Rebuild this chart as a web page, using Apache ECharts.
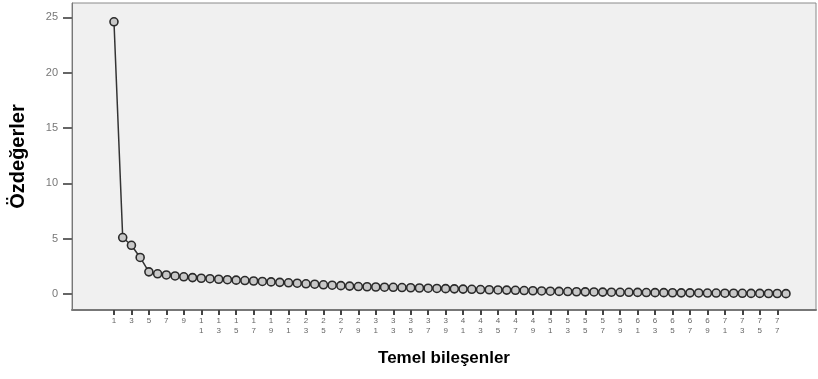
<!DOCTYPE html>
<html>
<head>
<meta charset="utf-8">
<script src="https://cdn.jsdelivr.net/npm/echarts@6/dist/echarts.min.js"></script>
<style>
html,body{margin:0;padding:0;background:#ffffff;}
#chart{width:818px;height:379px;}
</style>
</head>
<body>
<div id="chart"></div>
<script>
// Component numbers (1..78)
const components = [
  1,2,3,4,5,6,7,8,9,10,11,12,13,14,15,16,17,18,19,20,
  21,22,23,24,25,26,27,28,29,30,31,32,33,34,35,36,37,38,39,40,
  41,42,43,44,45,46,47,48,49,50,51,52,53,54,55,56,57,58,59,60,
  61,62,63,64,65,66,67,68,69,70,71,72,73,74,75,76,77,78
];
// Eigenvalues
const eigenvalues = [
  24.6,5.1,4.4,3.3,2.0,1.82,1.72,1.63,1.55,1.48,
  1.42,1.38,1.33,1.29,1.25,1.21,1.17,1.13,1.09,1.05,
  1.01,0.97,0.92,0.88,0.83,0.79,0.75,0.71,0.67,0.65,
  0.63,0.61,0.60,0.58,0.56,0.54,0.52,0.50,0.48,0.46,
  0.44,0.42,0.40,0.38,0.36,0.35,0.33,0.31,0.29,0.27,
  0.25,0.23,0.22,0.20,0.19,0.18,0.17,0.16,0.15,0.15,
  0.14,0.13,0.12,0.12,0.11,0.10,0.10,0.09,0.08,0.08,
  0.07,0.07,0.06,0.05,0.05,0.04,0.04,0.03
];
// Tick labels
const xTicks = [1,3,5,7,9,11,13,15,17,19,21,23,25,27,29,31,33,35,37,39,
  41,43,45,47,49,51,53,55,57,59,61,63,65,67,69,71,73,75,77];
const yTicks = [0,5,10,15,20,25];
const xTitle = 'Temel bileşenler';
const yTitle = 'Özdeğerler';

const chart = echarts.init(document.getElementById('chart'), null, {renderer:'canvas'});
const seriesData = components.map((c,i)=>[c, eigenvalues[i]]);

chart.setOption({
  backgroundColor:'#ffffff',
  animation:false,
  grid:{left:72,top:3,right:2,bottom:69,show:true,backgroundColor:'#f0f0f0',borderColor:'#8a8a8a',borderWidth:1},
  xAxis:{
    type:'value', min:-3.81, max:81.44,
    name:xTitle, nameLocation:'middle', nameGap:40,
    nameTextStyle:{fontFamily:'Liberation Sans', fontWeight:'bold', fontSize:17, color:'#000'},
    axisLine:{show:true, onZero:false, lineStyle:{color:'#777', width:2}},
    axisTick:{show:true, customValues:xTicks, length:5, lineStyle:{color:'#444', width:2}},
    axisLabel:{show:true, customValues:xTicks, fontFamily:'Liberation Sans', fontSize:8, color:'#666', lineHeight:10, margin:6,
      formatter:v=>String(v).split('').join('\n')},
    splitLine:{show:false}
  },
  yAxis:{
    type:'value', min:-1.45, max:26.3,
    name:yTitle, nameLocation:'middle', nameGap:44, nameRotate:90,
    nameTextStyle:{fontFamily:'Liberation Sans', fontWeight:'bold', fontSize:20, color:'#000'},
    axisLine:{show:true, onZero:false, lineStyle:{color:'#777', width:1}},
    axisTick:{show:true, customValues:yTicks, length:9, lineStyle:{color:'#666', width:2}},
    axisLabel:{show:true, customValues:yTicks, fontFamily:'Liberation Sans', fontSize:11, color:'#777', margin:14},
    splitLine:{show:false}
  },
  series:[{
    type:'line', data:seriesData,
    symbol:'circle', symbolSize:8, showAllSymbol:true,
    lineStyle:{color:'#333', width:1.5},
    itemStyle:{color:'#c8c8c8', borderColor:'#2a2a2a', borderWidth:1.6}
  }]
});
</script>
</body>
</html>
